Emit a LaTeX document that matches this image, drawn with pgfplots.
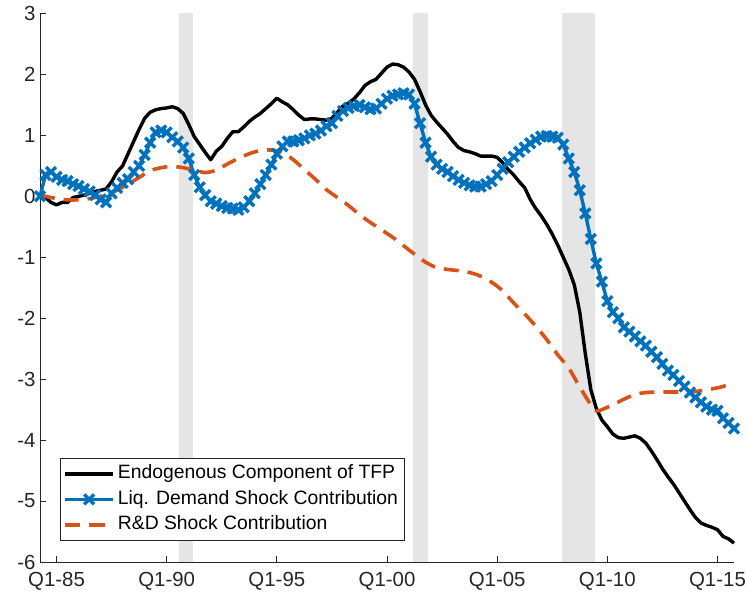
\documentclass[border=0pt]{standalone}
\usepackage{pgfplots}
\usepackage{pgfplotstable}
\pgfplotsset{compat=1.18}
\usepackage{fontspec}
\setmainfont{Liberation Sans}
\definecolor{mblue}{rgb}{0,0.447,0.741}
\definecolor{mred}{rgb}{0.85,0.325,0.098}
\definecolor{mgray}{rgb}{0.15,0.15,0.15}
\definecolor{band}{rgb}{0.9,0.9,0.9}

\pgfplotstableread{
t v
1984.25 0.02
1984.5 -0.02
1984.75 -0.1
1985.0 -0.14
1985.25 -0.1
1985.5 -0.1
1985.75 -0.02
1986.0 0.0
1986.25 0.02
1986.5 0.05
1986.75 0.08
1987.0 0.1
1987.25 0.12
1987.5 0.24
1987.75 0.4
1988.0 0.5
1988.25 0.7
1988.5 0.9
1988.75 1.1
1989.0 1.28
1989.25 1.38
1989.5 1.42
1989.75 1.44
1990.0 1.45
1990.25 1.47
1990.5 1.44
1990.75 1.36
1991.0 1.18
1991.25 0.98
1991.5 0.85
1991.75 0.72
1992.0 0.6
1992.25 0.74
1992.5 0.82
1992.75 0.95
1993.0 1.06
1993.25 1.06
1993.5 1.14
1993.75 1.23
1994.0 1.3
1994.25 1.36
1994.5 1.44
1994.75 1.52
1995.0 1.61
1995.25 1.55
1995.5 1.5
1995.75 1.42
1996.0 1.33
1996.25 1.26
1996.5 1.27
1996.75 1.27
1997.0 1.26
1997.25 1.25
1997.5 1.28
1997.75 1.38
1998.0 1.48
1998.25 1.53
1998.5 1.6
1998.75 1.7
1999.0 1.82
1999.25 1.88
1999.5 1.92
1999.75 2.02
2000.0 2.12
2000.25 2.17
2000.5 2.16
2000.75 2.12
2001.0 2.04
2001.25 1.92
2001.5 1.72
2001.75 1.5
2002.0 1.33
2002.25 1.22
2002.5 1.12
2002.75 1.02
2003.0 0.9
2003.25 0.8
2003.5 0.75
2003.75 0.73
2004.0 0.7
2004.25 0.66
2004.5 0.66
2004.75 0.66
2005.0 0.64
2005.25 0.55
2005.5 0.44
2005.75 0.35
2006.0 0.24
2006.25 0.14
2006.5 -0.05
2006.75 -0.2
2007.0 -0.32
2007.25 -0.46
2007.5 -0.62
2007.75 -0.8
2008.0 -1.0
2008.25 -1.2
2008.5 -1.45
2008.75 -1.9
2009.0 -2.58
2009.25 -3.17
2009.5 -3.48
2009.75 -3.67
2010.0 -3.78
2010.25 -3.9
2010.5 -3.96
2010.75 -3.97
2011.0 -3.95
2011.25 -3.93
2011.5 -3.97
2011.75 -4.05
2012.0 -4.18
2012.25 -4.32
2012.5 -4.47
2012.75 -4.6
2013.0 -4.72
2013.25 -4.86
2013.5 -5.0
2013.75 -5.14
2014.0 -5.27
2014.25 -5.36
2014.5 -5.4
2014.75 -5.43
2015.0 -5.47
2015.25 -5.58
2015.5 -5.62
2015.75 -5.69
}\tfp

\pgfplotstableread{
t v
1984.25 0.0
1984.5 0.35
1984.75 0.4
1985.0 0.32
1985.25 0.27
1985.5 0.25
1985.75 0.2
1986.0 0.17
1986.25 0.12
1986.5 0.08
1986.75 0.02
1987.0 -0.05
1987.25 -0.1
1987.5 0.05
1987.75 0.14
1988.0 0.22
1988.25 0.28
1988.5 0.4
1988.75 0.5
1989.0 0.68
1989.25 0.88
1989.5 1.05
1989.75 1.08
1990.0 1.05
1990.25 0.97
1990.5 0.9
1990.75 0.8
1991.0 0.62
1991.25 0.35
1991.5 0.15
1991.75 0.02
1992.0 -0.08
1992.25 -0.12
1992.5 -0.16
1992.75 -0.19
1993.0 -0.2
1993.25 -0.22
1993.5 -0.18
1993.75 -0.08
1994.0 0.05
1994.25 0.2
1994.5 0.35
1994.75 0.52
1995.0 0.7
1995.25 0.82
1995.5 0.9
1995.75 0.9
1996.0 0.92
1996.25 0.95
1996.5 1.0
1996.75 1.03
1997.0 1.08
1997.25 1.15
1997.5 1.2
1997.75 1.32
1998.0 1.4
1998.25 1.45
1998.5 1.48
1998.75 1.5
1999.0 1.46
1999.25 1.43
1999.5 1.44
1999.75 1.52
2000.0 1.6
2000.25 1.65
2000.5 1.67
2000.75 1.69
2001.0 1.67
2001.25 1.52
2001.5 1.2
2001.75 0.88
2002.0 0.65
2002.25 0.52
2002.5 0.45
2002.75 0.4
2003.0 0.33
2003.25 0.27
2003.5 0.22
2003.75 0.18
2004.0 0.16
2004.25 0.16
2004.5 0.2
2004.75 0.25
2005.0 0.35
2005.25 0.45
2005.5 0.56
2005.75 0.65
2006.0 0.73
2006.25 0.8
2006.5 0.87
2006.75 0.93
2007.0 0.98
2007.25 0.99
2007.5 0.98
2007.75 0.96
2008.0 0.85
2008.25 0.62
2008.5 0.4
2008.75 0.1
2009.0 -0.28
2009.25 -0.7
2009.5 -1.1
2009.75 -1.4
2010.0 -1.72
2010.25 -1.9
2010.5 -2.0
2010.75 -2.15
2011.0 -2.22
2011.25 -2.3
2011.5 -2.38
2011.75 -2.45
2012.0 -2.55
2012.25 -2.64
2012.5 -2.75
2012.75 -2.86
2013.0 -2.93
2013.25 -3.03
2013.5 -3.12
2013.75 -3.22
2014.0 -3.3
2014.25 -3.38
2014.5 -3.45
2014.75 -3.5
2015.0 -3.52
2015.25 -3.64
2015.5 -3.72
2015.75 -3.81
}\liq

\pgfplotstableread{
t v
1984.25 0.02
1984.75 -0.02
1985.25 -0.05
1985.75 -0.06
1986.25 -0.05
1986.75 -0.02
1987.25 0.03
1987.75 0.1
1988.25 0.2
1988.75 0.31
1989.25 0.42
1989.75 0.47
1990.25 0.49
1990.75 0.47
1991.25 0.43
1991.75 0.39
1992.25 0.43
1992.75 0.53
1993.25 0.62
1993.75 0.7
1994.25 0.75
1994.75 0.76
1995.25 0.72
1995.75 0.6
1996.25 0.44
1996.75 0.28
1997.25 0.11
1997.75 -0.02
1998.25 -0.15
1998.75 -0.3
1999.25 -0.43
1999.75 -0.55
2000.25 -0.67
2000.75 -0.81
2001.25 -0.95
2001.75 -1.08
2002.25 -1.17
2002.75 -1.2
2003.25 -1.22
2003.75 -1.25
2004.25 -1.31
2004.75 -1.41
2005.25 -1.55
2005.75 -1.75
2006.25 -1.93
2006.75 -2.13
2007.25 -2.35
2007.75 -2.6
2008.25 -2.82
2008.75 -3.13
2009.25 -3.42
2009.5 -3.52
2009.75 -3.5
2010.25 -3.42
2010.75 -3.33
2011.25 -3.25
2011.75 -3.22
2012.25 -3.21
2012.75 -3.21
2013.25 -3.21
2013.75 -3.21
2014.25 -3.19
2014.75 -3.16
2015.25 -3.12
2015.75 -3.05
}\rnd

\begin{document}
\begin{tikzpicture}
\begin{axis}[
  scale only axis,
  width=694bp, height=548.5bp,
  xmin=1984.25, xmax=2015.75,
  ymin=-6, ymax=3,
  axis lines*=left,
  axis line style={mgray, line width=0.7bp},
  tick align=inside,
  major tick length=6bp,
  tick style={mgray, line width=0.7bp},
  xtick={1985,1990,1995,2000,2005,2010,2015},
  xticklabels={Q1-85,Q1-90,Q1-95,Q1-00,Q1-05,Q1-10,Q1-15},
  ytick={-6,-5,-4,-3,-2,-1,0,1,2,3},
  yticklabels={-6,-5,-4,-3,-2,-1,0,1,2,3},
  ticklabel style={font=\fontsize{20.5}{24}\selectfont, text=mgray},
  xticklabel style={yshift=-7bp},
  yticklabel style={xshift=-1bp},
  legend cell align=left,
  legend style={at={(rel axis cs:0.0288,0.0383)}, anchor=south west,
    draw=mgray, line width=0.7bp, fill=white,
    font=\fontsize{19.4}{23}\selectfont,
    inner xsep=3bp, inner ysep=3bp,
    nodes={inner xsep=3bp, inner ysep=3bp, text height=14.5bp, text depth=5bp},
    row sep=0bp},
  legend image code/.code={%
    \draw[mark repeat=2,mark phase=2,#1] plot coordinates {(0bp,0bp) (24bp,0bp) (48bp,0bp)};},
  clip=false,
]
\addplot[fill=band, draw=none, forget plot] coordinates {(1990.55,-6) (1991.2,-6) (1991.2,3) (1990.55,3)};
\addplot[fill=band, draw=none, forget plot] coordinates {(2001.2,-6) (2001.85,-6) (2001.85,3) (2001.2,3)};
\addplot[fill=band, draw=none, forget plot] coordinates {(2007.95,-6) (2009.43,-6) (2009.43,3) (2007.95,3)};

\addplot[black, line width=3.4bp, line join=round] table[x=t,y=v] {\tfp};
\addlegendentry{Endogenous Component of TFP}
\addplot[mblue, line width=3.4bp, line join=round, mark=x, mark size=7bp,
  mark options={line width=3.4bp, solid}] table[x=t,y=v] {\liq};
\addlegendentry{Liq. Demand Shock Contribution}
\addplot[mred, line width=3.6bp, dash pattern=on 15bp off 9bp, smooth] table[x=t,y=v] {\rnd};
\addlegendentry{R\&D Shock Contribution}

\coordinate (sw) at (rel axis cs:0,0);
\coordinate (ne) at (rel axis cs:1,1);
\end{axis}
\pgfresetboundingbox
\path[use as bounding box] ([shift={(-40bp,-36bp)}]sw) rectangle ([shift={(13bp,13.5bp)}]ne);
\end{tikzpicture}
\end{document}
